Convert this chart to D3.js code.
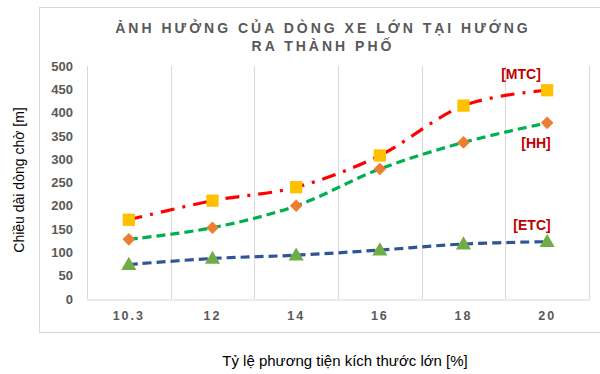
<!DOCTYPE html>
<html>
<head>
<meta charset="utf-8">
<script src="https://cdn.jsdelivr.net/npm/d3@7/dist/d3.min.js"></script>
<style>
  html, body { margin: 0; padding: 0; background: #fff; }
  svg { display: block; font-family: "Liberation Sans", Arial, sans-serif; }
</style>
</head>
<body>
<svg id="chart" width="600" height="374"></svg>
<script>
// Share of large vehicles (%) along the x axis
const categories = ["10.3", "12", "14", "16", "18", "20"];
// Queue length (m) for each model
const mtcValues = [170, 211, 240, 308, 415, 448];
const hhValues  = [128, 153, 200, 279, 336, 378];
const etcValues = [74, 87, 94, 105, 118, 123];
const yTicks = [0, 50, 100, 150, 200, 250, 300, 350, 400, 450, 500];

const series = [
  { name: "[MTC]", values: mtcValues, color: "#FF0000", dash: "14,8,3,8", marker: "square", fill: "#FFC000" },
  { name: "[HH]",  values: hhValues,  color: "#00B050", dash: "9,5",      marker: "diamond", fill: "#ED7D31" },
  { name: "[ETC]", values: etcValues, color: "#2F5597", dash: "9,5",      marker: "triangle", fill: "#70AD47" }
];

const svg = d3.select("#chart");
const plot = { left: 87, right: 589, top: 66, bottom: 299 };

// Chart frame
svg.append("rect")
  .attr("x", 39.5).attr("y", 7.5)
  .attr("width", 600).attr("height", 325)
  .attr("fill", "#fff").attr("stroke", "#D9D9D9").attr("stroke-width", 1);

const x = d3.scaleBand().domain(categories).range([plot.left, plot.right]).padding(0);
const y = d3.scaleLinear().domain([0, 500]).range([plot.bottom, plot.top]);

// Vertical gridlines at category boundaries
const bounds = categories.map(c => x(c)).concat([plot.right]);
svg.append("g").selectAll("line").data(bounds).join("line")
  .attr("x1", d => Math.round(d) + 0.5).attr("x2", d => Math.round(d) + 0.5)
  .attr("y1", plot.top).attr("y2", plot.bottom)
  .attr("stroke", "#D9D9D9").attr("stroke-width", 1);

// Category axis
const xAxis = svg.append("g")
  .attr("transform", `translate(0,${plot.bottom + 0.5})`)
  .call(d3.axisBottom(x).tickSize(0).tickPadding(12));
xAxis.select(".domain").attr("stroke", "#D9D9D9");
xAxis.selectAll("text")
  .attr("fill", "#595959").attr("font-size", 12.5).attr("font-weight", "bold")
  .attr("letter-spacing", "2px")
  .attr("font-family", "Liberation Sans, Arial, sans-serif");

// Value axis
const yAxis = svg.append("g")
  .attr("transform", `translate(${plot.left - 14},0)`)
  .call(d3.axisLeft(y).tickValues(yTicks).tickSize(0).tickPadding(0));
yAxis.select(".domain").remove();
yAxis.selectAll("text")
  .attr("fill", "#595959").attr("font-size", 13).attr("font-weight", "bold")
  .attr("font-family", "Liberation Sans, Arial, sans-serif");

// Title
const title = svg.append("text")
  .attr("text-anchor", "middle").attr("fill", "#595959")
  .attr("font-size", 14).attr("font-weight", "bold").attr("letter-spacing", "3px");
title.append("tspan").attr("x", 323).attr("y", 33).text("ẢNH HƯỞNG CỦA DÒNG XE LỚN TẠI HƯỚNG");
title.append("tspan").attr("x", 323).attr("y", 51).text("RA THÀNH PHỐ");

// Axis titles
svg.append("text")
  .attr("transform", "translate(24,180) rotate(-90)")
  .attr("text-anchor", "middle").attr("fill", "#000").attr("font-size", 14)
  .text("Chiều dài dòng chờ [m]");
svg.append("text")
  .attr("x", 345).attr("y", 366)
  .attr("text-anchor", "middle").attr("fill", "#000").attr("font-size", 15)
  .text("Tỷ lệ phương tiện kích thước lớn [%]");

const cx = i => x(categories[i]) + x.bandwidth() / 2;
const line = d3.line()
  .x((d, i) => cx(i))
  .y(d => y(d))
  .curve(d3.curveCatmullRom.alpha(0));

// Series lines
series.forEach(s => {
  svg.append("path")
    .attr("d", line(s.values))
    .attr("fill", "none").attr("stroke", s.color)
    .attr("stroke-width", 3.2).attr("stroke-dasharray", s.dash);
});

// Markers
const symbols = {
  square: d3.symbol().type(d3.symbolSquare).size(150),
  diamond: d3.symbol().type(d3.symbolSquare).size(80),
  triangle: d3.symbol().type(d3.symbolTriangle).size(100)
};
series.forEach(s => {
  svg.append("g").selectAll("path").data(s.values).join("path")
    .attr("d", symbols[s.marker]())
    .attr("transform", (d, i) =>
      `translate(${cx(i)},${y(d) + (s.marker === "triangle" ? 1 : 0)})` + (s.marker === "diamond" ? " rotate(45)" : ""))
    .attr("fill", s.fill);
});

// Series labels
const labelPos = { "[MTC]": [521, 79], "[HH]": [536, 148], "[ETC]": [532, 230] };
series.forEach(s => {
  svg.append("text")
    .attr("x", labelPos[s.name][0]).attr("y", labelPos[s.name][1])
    .attr("text-anchor", "middle").attr("fill", "#C00000")
    .attr("font-size", 14).attr("font-weight", "bold")
    .text(s.name);
});
</script>
</body>
</html>
